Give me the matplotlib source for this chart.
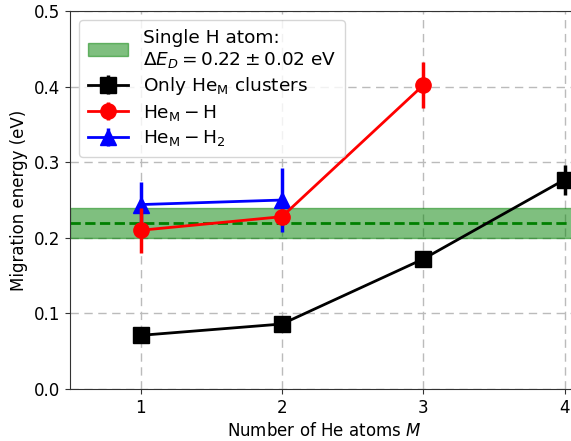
import matplotlib
matplotlib.use("Agg")
import matplotlib.pyplot as plt
import numpy as np

# Number of He atoms in the cluster
m_vals = [1, 2, 3, 4]

# Migration energies (eV) and uncertainties
he_only = [0.071, 0.086, 0.172, 0.277]
he_only_err = [0.005, 0.005, 0.005, 0.02]

he_h_m = [1, 2, 3]
he_h = [0.210, 0.228, 0.402]
he_h_err = [0.03, 0.01, 0.03]

he_h2_m = [1, 2]
he_h2 = [0.244, 0.250]
he_h2_err = [0.03, 0.042]

# Single H atom reference
h_ref = 0.22
h_ref_err = 0.02

fig = plt.figure(figsize=(5.71, 4.41), dpi=100)
ax = fig.add_axes([0.1226, 0.1179, 0.891, 0.857])

ax.axhspan(h_ref - h_ref_err, h_ref + h_ref_err, color="green", alpha=0.5,
           label="Single H atom:\n$\\Delta E_D = 0.22 \\pm 0.02$ eV", zorder=1)
ax.axhline(h_ref, color="green", ls="--", lw=2, zorder=2)

ax.errorbar(m_vals, he_only, yerr=he_only_err, color="black", marker="s",
            ms=11.5, lw=2, elinewidth=2.5, label="Only $\\mathrm{He_M}$ clusters", zorder=3)
ax.errorbar(he_h_m, he_h, yerr=he_h_err, color="red", marker="o",
            ms=11, lw=2, elinewidth=2.5, label="$\\mathrm{He_M - H}$", zorder=4)
ax.errorbar(he_h2_m, he_h2, yerr=he_h2_err, color="blue", marker="^",
            ms=11, lw=2, elinewidth=2.5, label="$\\mathrm{He_M - H_2}$", zorder=3)

ax.set_xlim(0.5, 4.1)
ax.set_ylim(0.0, 0.5)
ax.set_xticks(m_vals)
ax.set_yticks([0.0, 0.1, 0.2, 0.3, 0.4, 0.5])
ax.grid(True, ls=(0, (6, 4)), color="#bbbbbb", lw=1.0)
ax.set_axisbelow(True)
ax.tick_params(labelsize=12, color="#333333")
for s in ax.spines.values():
    s.set_color("#333333")

ax.set_xlabel("Number of He atoms $M$", fontsize=12)
ax.set_ylabel("Migration energy (eV)", fontsize=12)

ax.legend(loc="upper left", fontsize=13.3, handlelength=2.2, borderpad=0.45,
          labelspacing=0.3, framealpha=0.8)

fig.savefig("out.png", dpi=100)
